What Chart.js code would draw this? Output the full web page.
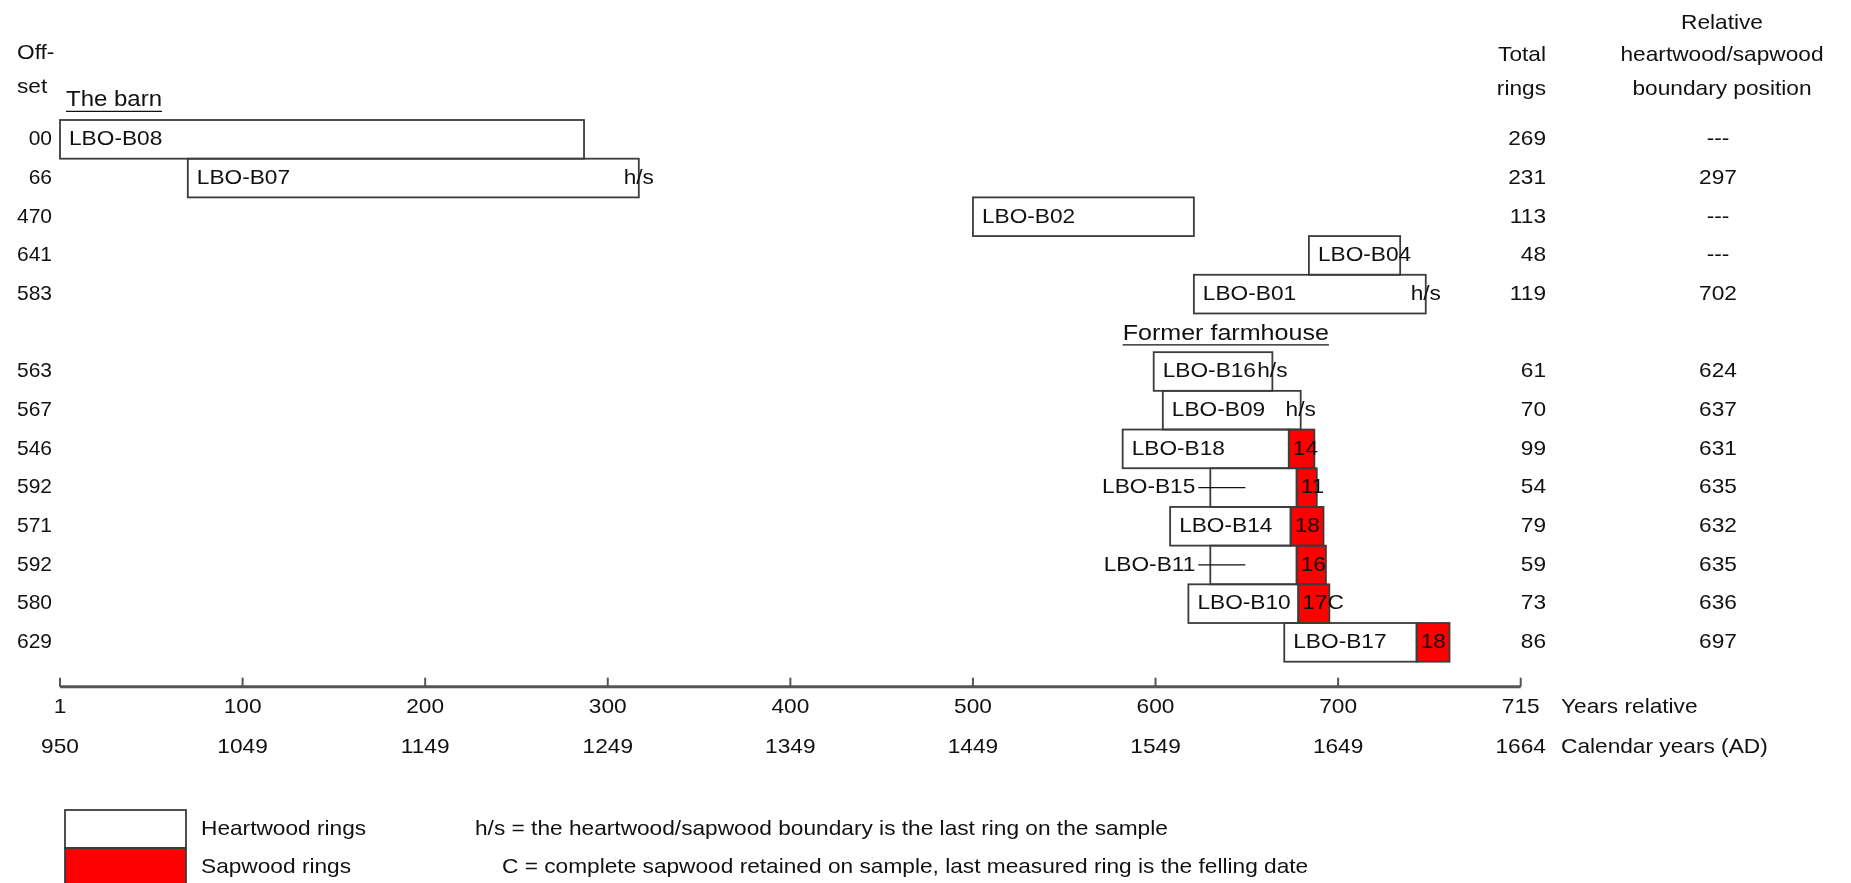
<!DOCTYPE html>
<html>
<head>
<meta charset="utf-8">
<script src="https://cdn.jsdelivr.net/npm/chart.js@4"></script>
<style>
  html, body { margin: 0; padding: 0; background: #fff; }
  canvas { display: block; }
</style>
</head>
<body>
<canvas id="c" width="1851" height="883"></canvas>
<script>
// rows top to bottom; the empty row holds the "Former farmhouse" heading
const sampleNames = ['LBO-B08', 'LBO-B07', 'LBO-B02', 'LBO-B04', 'LBO-B01', '',
  'LBO-B16', 'LBO-B09', 'LBO-B18', 'LBO-B15', 'LBO-B14', 'LBO-B11', 'LBO-B10', 'LBO-B17'];
const offsets = ['00', '66', '470', '641', '583', '', '563', '567', '546', '592', '571', '592', '580', '629'];
const totalRings = ['269', '231', '113', '48', '119', '', '61', '70', '99', '54', '79', '59', '73', '86'];
const hsBoundary = ['---', '297', '---', '---', '702', '', '624', '637', '631', '635', '632', '635', '636', '697'];

// bar positions as drawn on the relative-years scale
const barStart = [0, 70, 500, 684, 621, null, 599, 604, 582, 630, 608, 630, 618, 670.5];
const hsEnd = [287, 317, 621, 734, 748, null, 664, 679.5, 673, 677.3, 674, 677.3, 678.2, 743];
const sapRings = [null, null, null, null, null, null, null, null, 14, 11, 18, 16, 17, 18];
const endNotes = ['', 'h/s', '', '', 'h/s', '', 'h/s', 'h/s', '', '', '', '', 'C', ''];
const outsideLabels = ['LBO-B15', 'LBO-B11'];

const tickValues = [0, 100, 200, 300, 400, 500, 600, 700, 800];
const relLabels = ['1', '100', '200', '300', '400', '500', '600', '700', '715'];
const calLabels = ['950', '1049', '1149', '1249', '1349', '1449', '1549', '1649', '1664'];

const FAMILY = '"Liberation Sans", Arial, sans-serif';
const FONT = '21px ' + FAMILY;
const INK = '#111';
const SX = 1.08; // the source text is a little wider than Arial

function txt(ctx, s, x, y, align, sx) {
  ctx.save();
  ctx.translate(x, y);
  ctx.scale(sx || SX, 1);
  ctx.textAlign = align || 'left';
  ctx.fillText(s, 0, 0);
  ctx.restore();
}

function heading(ctx, s, x, y, sx) {
  ctx.save();
  ctx.font = '22px ' + FAMILY;
  txt(ctx, s, x, y, 'left', sx);
  const w = ctx.measureText(s).width * sx;
  ctx.beginPath();
  ctx.moveTo(x, y + 11);
  ctx.lineTo(x + w, y + 11);
  ctx.stroke();
  ctx.restore();
}

const decor = {
  id: 'decor',
  afterDatasetsDraw(chart) {
    const ctx = chart.ctx;
    const x = chart.scales.x, y = chart.scales.y;
    ctx.save();

    // outlines of all boxes, centred on the edges
    ctx.strokeStyle = '#3c3c3c';
    ctx.lineWidth = 1.8;
    chart.data.datasets.forEach((ds, di) => {
      chart.getDatasetMeta(di).data.forEach((bar, i) => {
        if (ds.data[i] == null) return;
        const p = bar.getProps(['x', 'base', 'y', 'height'], true);
        ctx.strokeRect(Math.min(p.x, p.base), p.y - p.height / 2, Math.abs(p.x - p.base), p.height);
      });
    });

    ctx.font = FONT;
    ctx.fillStyle = INK;
    ctx.textBaseline = 'middle';
    ctx.strokeStyle = INK;
    ctx.lineWidth = 1.3;

    sampleNames.forEach((name, i) => {
      const yc = y.getPixelForValue(i);
      txt(ctx, totalRings[i], 1546, yc, 'right');
      txt(ctx, hsBoundary[i], 1718, yc, 'center');
      if (!name) return;
      const x0 = x.getPixelForValue(barStart[i]);
      const xh = x.getPixelForValue(hsEnd[i]);
      if (outsideLabels.includes(name)) {
        txt(ctx, name, x0 - 15, yc, 'right');
        ctx.beginPath();
        ctx.moveTo(x0 - 12, yc);
        ctx.lineTo(x0 + 35, yc);
        ctx.stroke();
      } else {
        txt(ctx, name, x0 + 9, yc, 'left');
      }
      if (sapRings[i] != null) {
        txt(ctx, sapRings[i] + (endNotes[i] === 'C' ? 'C' : ''), xh + 4, yc, 'left');
      }
      if (endNotes[i] === 'h/s') {
        txt(ctx, 'h/s', xh, yc, 'center');
      }
    });

    // group headings
    heading(ctx, 'The barn', 66, y.getPixelForValue(0) - 39, 1.09);
    heading(ctx, 'Former farmhouse', x.getPixelForValue(582), y.getPixelForValue(5) + 1, 1.14);
    ctx.restore();
  },
  afterDraw(chart) {
    const ctx = chart.ctx;
    const x = chart.scales.x;
    const area = chart.chartArea;
    ctx.save();

    // time axis below the bars
    const ya = area.bottom + 25;
    ctx.strokeStyle = '#555';
    ctx.lineWidth = 3;
    ctx.beginPath();
    ctx.moveTo(x.getPixelForValue(tickValues[0]), ya);
    ctx.lineTo(x.getPixelForValue(tickValues[tickValues.length - 1]), ya);
    ctx.stroke();
    ctx.lineWidth = 2;
    tickValues.forEach(v => {
      const px = x.getPixelForValue(v);
      ctx.beginPath();
      ctx.moveTo(px, ya);
      ctx.lineTo(px, ya - 9);
      ctx.stroke();
    });

    ctx.font = FONT;
    ctx.fillStyle = INK;
    ctx.textBaseline = 'middle';
    tickValues.forEach((v, i) => {
      const px = x.getPixelForValue(v);
      txt(ctx, relLabels[i], px, ya + 21, 'center');
      txt(ctx, calLabels[i], px, ya + 61, 'center');
    });
    txt(ctx, 'Years relative', 1561, ya + 21, 'left');
    txt(ctx, 'Calendar years (AD)', 1561, ya + 61, 'left');

    // column headings
    txt(ctx, 'Off-', 17, 53, 'left');
    txt(ctx, 'set', 17, 87, 'left');
    txt(ctx, 'Total', 1546, 55, 'right');
    txt(ctx, 'rings', 1546, 89, 'right');
    txt(ctx, 'Relative', 1722, 23, 'center');
    txt(ctx, 'heartwood/sapwood', 1722, 55, 'center');
    txt(ctx, 'boundary position', 1722, 89, 'center');

    // key
    ctx.fillStyle = '#fff';
    ctx.fillRect(65, 810, 121, 38);
    ctx.fillStyle = '#ff0000';
    ctx.fillRect(65, 848, 121, 40);
    ctx.strokeStyle = '#3c3c3c';
    ctx.lineWidth = 1.8;
    ctx.strokeRect(65, 810, 121, 38);
    ctx.strokeRect(65, 848, 121, 40);
    ctx.fillStyle = INK;
    txt(ctx, 'Heartwood rings', 201, 829, 'left');
    txt(ctx, 'Sapwood rings', 201, 867, 'left');
    txt(ctx, 'h/s = the heartwood/sapwood boundary is the last ring on the sample', 475, 829, 'left');
    txt(ctx, 'C = complete sapwood retained on sample, last measured ring is the felling date', 502, 867, 'left');
    ctx.restore();
  }
};

new Chart(document.getElementById('c'), {
  type: 'bar',
  data: {
    labels: sampleNames,
    datasets: [
      {
        label: 'Heartwood rings',
        data: hsEnd.map((e, i) => e == null ? null : [barStart[i], e]),
        backgroundColor: '#ffffff',
        borderWidth: 0
      },
      {
        label: 'Sapwood rings',
        data: sapRings.map((n, i) => n == null ? null : [hsEnd[i], hsEnd[i] + n]),
        backgroundColor: '#ff0000',
        borderWidth: 0
      }
    ]
  },
  options: {
    indexAxis: 'y',
    responsive: false,
    animation: false,
    grouped: false,
    barPercentage: 1,
    categoryPercentage: 1,
    layout: { padding: { left: 0, top: 120, right: 330.3, bottom: 221.3 } },
    plugins: { legend: { display: false }, tooltip: { enabled: false } },
    scales: {
      x: { type: 'linear', min: 0, max: 800, display: false },
      y: {
        type: 'category',
        grid: { display: false, drawTicks: false },
        border: { display: false },
        ticks: {
          autoSkip: false,
          padding: 8,
          color: INK,
          font: { family: FAMILY, size: 21 },
          callback: (v, i) => offsets[i]
        },
        afterFit: s => { s.width = 60; }
      }
    }
  },
  plugins: [decor]
});
</script>
</body>
</html>
